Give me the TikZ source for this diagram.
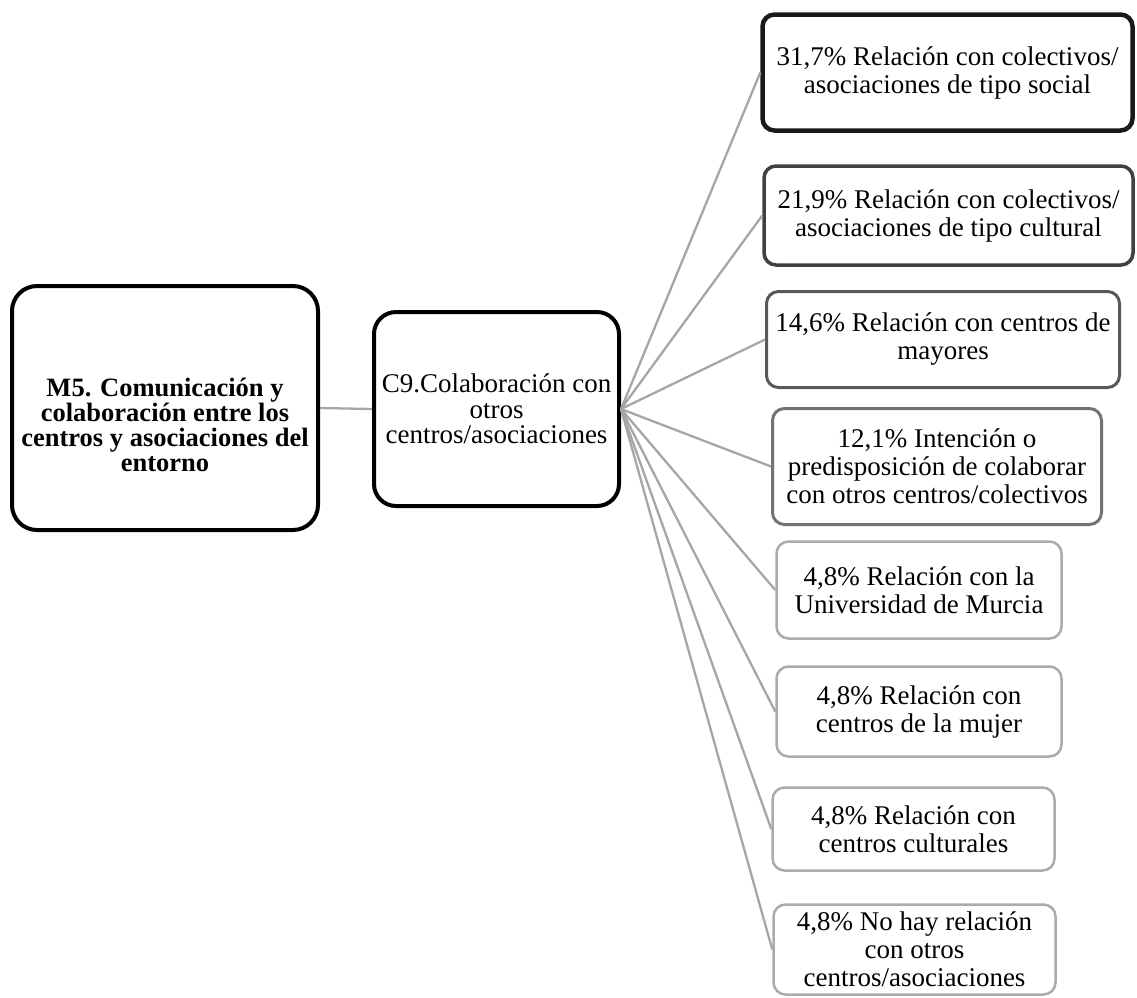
\documentclass[tikz,border=0pt]{standalone}
\usepackage{fontspec}
\setmainfont{Liberation Serif}
\begin{document}
\begin{tikzpicture}[x=1pt,y=-1pt,
  box/.style={rectangle, rounded corners=12pt, align=center, inner sep=0pt,
    fill=white, font=\fontsize{27}{28}\selectfont},
  link/.style={draw=linkgray, line width=2.3pt},
]
\definecolor{linkgray}{HTML}{A6A6A6}
\definecolor{lvlA}{HTML}{1A1A1A}
\definecolor{lvlB}{HTML}{404040}
\definecolor{lvlC}{HTML}{595959}
\definecolor{lvlD}{HTML}{737373}
\definecolor{lvlE}{HTML}{ABABAB}
\useasboundingbox (0,0) rectangle (1137,997);

% main topic (frame and its text sit slightly below the frame's middle)
\node[box, draw=black, line width=4pt, rounded corners=25pt,
      minimum width=306pt, minimum height=244pt] (m5) at (165,408) {};
\node[align=center, inner sep=0pt, font=\fontsize{26.5}{25}\selectfont\bfseries]
  (m5text) at (165,425)
  {M5. Comunicación y\\colaboración entre los\\centros y asociaciones del\\entorno};

% category
\node[box, draw=black, line width=4pt, rounded corners=22pt,
      minimum width=245pt, minimum height=194pt,
      font=\fontsize{27}{25.5}\selectfont] (c9) at (496.5,409)
  {C9.Colaboración con\\otros\\centros/asociaciones};

% sub-categories, border weight falling with the share
\node[box, draw=lvlA, line width=4.5pt, minimum width=370pt, minimum height=116pt] (r1) at (947.5,72.5)
  {31,7\% Relación con colectivos/\\asociaciones de tipo social};
\node[box, draw=lvlB, line width=3.5pt, minimum width=369pt, minimum height=99pt] (r2) at (948.5,215.5)
  {21,9\% Relación con colectivos/\\asociaciones de tipo cultural};
\node[box, draw=lvlC, line width=3pt, minimum width=353pt, minimum height=96pt] (r3) at (943,339.5)
  {14,6\% Relación con centros de\\mayores};
\node[box, draw=lvlD, line width=3pt, minimum width=329pt, minimum height=116pt] (r4) at (937,466.5)
  {12,1\% Intención o\\predisposición de colaborar\\con otros centros/colectivos};
\node[box, draw=lvlE, line width=2.5pt, minimum width=285pt, minimum height=97pt] (r5) at (919,590)
  {4,8\% Relación con la\\Universidad de Murcia};
\node[box, draw=lvlE, line width=2.5pt, minimum width=285pt, minimum height=90pt] (r6) at (919,711.5)
  {4,8\% Relación con\\centros de la mujer};
\node[box, draw=lvlE, line width=2.5pt, minimum width=282pt, minimum height=83pt] (r7) at (913.5,829)
  {4,8\% Relación con\\centros culturales};
\node[box, draw=lvlE, line width=2.5pt, minimum width=282pt, minimum height=90pt] (r8) at (914.5,949.5)
  {4,8\% No hay relación\\con otros\\centros/asociaciones};

% connectors
\draw[link] (m5.east) -- (c9.west);
\foreach \n in {r1,r2,r3,r4,r5,r6,r7,r8}
  \draw[link] (c9.east) -- (\n.west);
\end{tikzpicture}
\end{document}
